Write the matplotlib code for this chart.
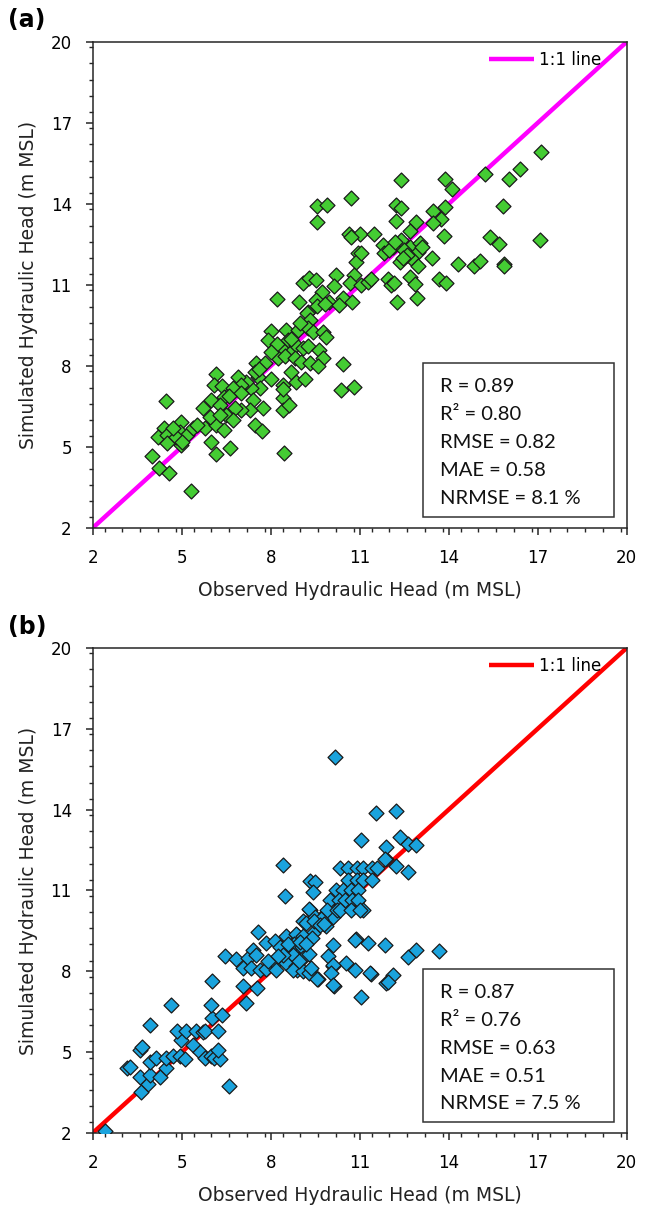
import numpy as np
import matplotlib
matplotlib.use("Agg")
import matplotlib.pyplot as plt
from matplotlib.ticker import MultipleLocator
from matplotlib.patches import Rectangle

## data: (observed, simulated)

obs_a = [10.72, 9.57, 9.91, 9.57, 10.64, 11.02, 10.70, 10.95, 10.86, 10.21, 10.80, 10.13, 10.66, 9.09,
         9.28, 9.54, 8.21, 8.94, 9.73, 9.54, 9.97, 10.44, 10.74, 10.30, 9.57, 9.26, 9.83, 11.05, 11.28,
         9.22, 9.31, 8.02, 8.50, 8.92, 7.91, 8.58, 9.26, 9.43, 9.76, 9.85, 8.41, 8.64, 8.86, 9.09, 9.26,
         9.63, 8.25, 8.47, 8.81, 9.03, 9.31, 9.76, 9.59, 10.44, 8.70, 8.41, 8.86, 9.15, 8.02, 7.49, 7.80,
         7.57, 7.63, 7.35, 7.18, 6.90, 7.01, 7.40, 7.74, 7.29, 7.01, 6.79, 7.46, 7.72, 8.45, 8.41, 8.41,
         8.62, 8.41, 6.14, 6.08, 6.37, 6.00, 5.72, 6.42, 6.28, 6.48, 6.73, 5.77, 6.17, 5.94, 6.28, 6.42,
         6.00, 6.17, 6.62, 4.48, 4.39, 4.20, 4.51, 4.51, 4.99, 4.93, 5.18, 5.38, 4.99, 4.80, 4.69, 4.01,
         4.23, 4.56, 5.32, 6.73, 7.46, 10.38, 10.80, 8.20, 8.70, 9.00, 8.00, 7.00, 7.60, 6.60, 5.50, 5.00,
         17.10, 16.41, 16.02, 15.22, 13.86, 14.11, 12.38, 15.84, 12.21, 12.40, 13.86, 13.47, 13.73, 13.47,
         12.91, 12.21, 12.70, 11.48, 13.83, 15.38, 15.69, 17.09, 11.78, 12.12, 12.38, 12.68, 13.02, 11.82,
         12.96, 13.45, 12.74, 12.35, 12.96, 14.31, 14.85, 15.07, 15.86, 15.87, 11.05, 11.39, 11.95, 12.06,
         12.15, 12.68, 12.85, 13.69, 13.90, 12.27, 12.94, 12.00, 12.50, 12.60, 12.20, 13.10, 12.45]
sim_a = [14.21, 13.94, 13.96, 13.32, 12.88, 12.88, 12.77, 12.20, 11.83, 11.37, 11.36, 10.97, 11.06, 11.06,
         11.25, 11.19, 10.48, 10.36, 10.73, 10.44, 10.38, 10.51, 10.36, 10.26, 10.22, 10.01, 10.30, 11.00, 11.12,
         9.95, 9.70, 9.31, 9.33, 9.33, 8.96, 8.96, 9.40, 9.27, 9.27, 9.06, 8.59, 8.47, 8.78, 8.66, 8.72,
         8.59, 8.29, 8.35, 8.29, 8.16, 8.10, 8.29, 8.00, 8.07, 7.79, 7.30, 7.42, 7.51, 7.51, 8.10, 8.10,
         7.60, 7.17, 7.17, 7.42, 7.60, 7.30, 6.74, 6.43, 6.37, 6.37, 6.43, 5.81, 5.60, 4.77, 6.80, 6.37,
         6.56, 7.13, 7.70, 7.30, 7.26, 6.74, 6.43, 6.86, 6.56, 6.19, 6.00, 5.69, 5.81, 6.12, 6.19, 5.63,
         5.20, 4.74, 4.97, 6.70, 5.69, 5.38, 5.44, 5.16, 5.94, 5.57, 5.44, 5.69, 5.07, 5.38, 5.69, 4.67,
         4.21, 4.05, 3.37, 7.17, 7.79, 7.09, 7.23, 8.80, 9.00, 9.60, 8.50, 7.00, 7.90, 6.90, 5.80, 5.20,
         15.91, 15.28, 14.91, 15.12, 14.94, 14.54, 14.88, 13.91, 13.96, 13.86, 13.87, 13.72, 13.44, 13.29,
         13.32, 13.35, 13.00, 12.88, 12.80, 12.78, 12.51, 12.67, 12.48, 12.42, 12.67, 12.42, 12.54, 12.17,
         12.23, 11.99, 11.99, 11.83, 11.69, 11.77, 11.69, 11.87, 11.77, 11.70, 12.17, 11.21, 11.21, 11.00,
         11.06, 11.31, 11.03, 11.21, 11.06, 10.37, 10.51, 12.30, 12.30, 12.10, 12.60, 12.40, 12.00]

obs_b = [2.40, 3.64, 3.86, 3.58, 3.92, 3.16, 3.25, 3.58, 3.67, 3.92, 3.92, 4.15, 4.26, 4.48, 4.48, 4.71,
         4.93, 5.10, 4.99, 4.65, 4.84, 5.13, 5.47, 5.72, 5.80, 6.22, 5.38, 5.61, 5.77, 6.00, 6.10, 6.30,
         6.22, 6.03, 6.00, 6.37, 6.03, 6.59, 6.45, 6.84, 7.07, 7.18, 7.55, 7.57, 7.23, 7.40, 7.50, 7.07,
         7.35, 7.63, 7.85, 8.13, 8.13, 7.85, 8.19, 8.53, 8.87, 8.64, 8.92, 8.53, 8.87, 9.15, 9.31, 9.59,
         9.09, 9.31, 9.43, 9.71, 9.88, 10.05, 10.36, 10.60, 10.90, 10.10, 11.11, 10.10, 9.93, 10.10, 10.55,
         10.83, 10.89, 11.28, 11.39, 10.12, 11.06, 11.84, 11.90,
         12.63, 12.21, 11.90, 9.31, 9.50, 9.43,
         10.32, 10.60, 10.90, 11.10, 11.40, 11.60, 10.60, 10.90, 11.10, 11.40,
         10.20, 10.45, 10.70, 10.95, 10.00, 10.30, 10.50, 10.75, 10.95, 9.90, 10.25, 10.35, 10.70, 11.00,
         9.30, 9.50, 9.70, 9.20, 9.45, 9.65, 9.80, 8.85, 9.10, 9.40, 8.80, 9.05, 8.75, 9.10, 9.30, 8.85,
         8.75, 9.10, 9.30, 9.55, 10.83, 12.63, 12.89, 13.66, 10.10, 10.04, 11.34, 12.12, 11.95, 10.10,
         9.37, 10.18, 11.54, 12.22, 11.03, 12.37, 12.63, 12.91, 11.90, 11.84, 8.41, 8.47,
         8.30, 8.60, 9.00, 8.40, 8.95, 9.20, 7.90, 8.25]
sim_b = [2.09, 3.54, 3.82, 4.09, 4.16, 4.40, 4.45, 5.09, 5.21, 5.99, 4.65, 4.78, 4.09, 4.40, 4.78, 4.84,
         4.84, 4.74, 5.46, 6.76, 5.79, 5.79, 5.79, 5.73, 5.80, 5.77, 5.27, 5.02, 4.78, 4.84, 4.80, 4.74,
         5.09, 6.26, 6.76, 6.39, 7.65, 3.76, 8.55, 8.46, 7.46, 6.82, 7.38, 9.45, 8.49, 8.80, 8.60, 8.12,
         8.12, 8.06, 9.05, 9.11, 8.31, 8.10, 8.06, 9.30, 9.36, 8.68, 8.80, 8.31, 8.06, 8.68, 8.06, 7.72,
         9.86, 10.29, 9.42, 9.98, 9.67, 10.35, 10.47, 10.50, 10.60, 10.00, 10.29, 8.99, 8.55, 8.18, 8.31,
         8.06, 9.20, 9.05, 7.91, 7.46, 7.04, 8.96, 7.57,
         11.68, 11.90, 12.15, 11.34, 11.30, 10.93,
         11.85, 11.85, 11.85, 11.85, 11.85, 11.85, 11.40, 11.40, 11.40, 11.40,
         11.03, 11.03, 11.03, 11.03, 10.66, 10.66, 10.66, 10.66, 10.66, 10.29, 10.29, 10.29, 10.29, 10.29,
         10.30, 10.00, 9.95, 9.80, 9.85, 9.70, 9.75, 9.40, 9.30, 9.25, 9.00, 8.90, 8.60, 8.50, 8.65, 8.20,
         8.05, 8.00, 7.95, 7.70, 9.18, 8.53, 8.80, 8.74, 8.25, 7.94, 7.94, 7.87, 7.62, 7.50,
         8.12, 15.97, 13.86, 13.94, 12.87, 12.99, 12.71, 12.68, 12.62, 12.15, 11.94, 10.78,
         8.90, 9.00, 9.10, 8.60, 8.40, 9.00, 8.40, 8.55]

stats_a = ["R = 0.89", "R\u00b2 = 0.80", "RMSE = 0.82", "MAE = 0.58", "NRMSE = 8.1 %"]
stats_b = ["R = 0.87", "R\u00b2 = 0.76", "RMSE = 0.63", "MAE = 0.51", "NRMSE = 7.5 %"]

lim = [2, 20]
ticks = [2, 5, 8, 11, 14, 17, 20]

## figure

plt.rcParams['font.family'] = 'DejaVu Sans'
fig = plt.figure(figsize=(6.46, 12.07), dpi=100)

panels = [
    ("(a)", [0.1435, 0.5626, 0.8266, 0.4027], obs_a, sim_a, "#44cc33", "#ff00ff", stats_a, 1 - 20 / 1207),
    ("(b)", [0.1435, 0.0613, 0.8266, 0.4019], obs_b, sim_b, "#1aa3dd", "#ff0000", stats_b, 1 - 627 / 1207),
]

for tag, rect, obs, sim, fc, lc, stats, ytag in panels:
    ax = fig.add_axes(rect)
    ax.plot(lim, lim, color=lc, lw=3.2, label="1:1 line", zorder=2, solid_capstyle='butt')
    ax.scatter(obs, sim, marker='D', s=58, facecolor=fc, edgecolor='#1a1a1a', linewidths=0.9, zorder=3)

    ax.set_xlim(lim)
    ax.set_ylim(lim)
    ax.set_xticks(ticks)
    ax.set_yticks(ticks)
    ax.xaxis.set_minor_locator(MultipleLocator(0.6))
    ax.yaxis.set_minor_locator(MultipleLocator(0.6))
    ax.tick_params(which='major', direction='out', length=5, width=1.1, labelsize=12, pad=10, color='#262626')
    ax.tick_params(which='minor', direction='out', length=2.6, width=1.0, color='#262626')
    for sp in ax.spines.values():
        sp.set_color('#262626')
        sp.set_linewidth(1.1)

    ax.set_xlabel("Observed Hydraulic Head (m MSL)", fontsize=13.5, labelpad=10, color='#222222')
    ax.set_ylabel("Simulated Hydraulic Head (m MSL)", fontsize=13.5, labelpad=9, color='#222222')

    leg = ax.legend(loc='center right', bbox_to_anchor=(0.952, 0.963), frameon=False, fontsize=12,
                    handlelength=2.7, handletextpad=0.3, borderpad=0, borderaxespad=0)

    ax.add_patch(Rectangle((0.618, 0.023), 0.358, 0.316, transform=ax.transAxes, fill=False,
                           edgecolor='#333333', lw=1.1, zorder=4))
    for i, s in enumerate(stats):
        ax.text(0.650, 0.290 - i * 0.0575, s, transform=ax.transAxes, fontsize=14.5,
                family='Lato', va='center', ha='left', color='#111111', zorder=5)

    fig.text(0.012, ytag, tag, fontsize=17, fontweight='bold', va='center', ha='left')

fig.savefig("out.png", dpi=100)
